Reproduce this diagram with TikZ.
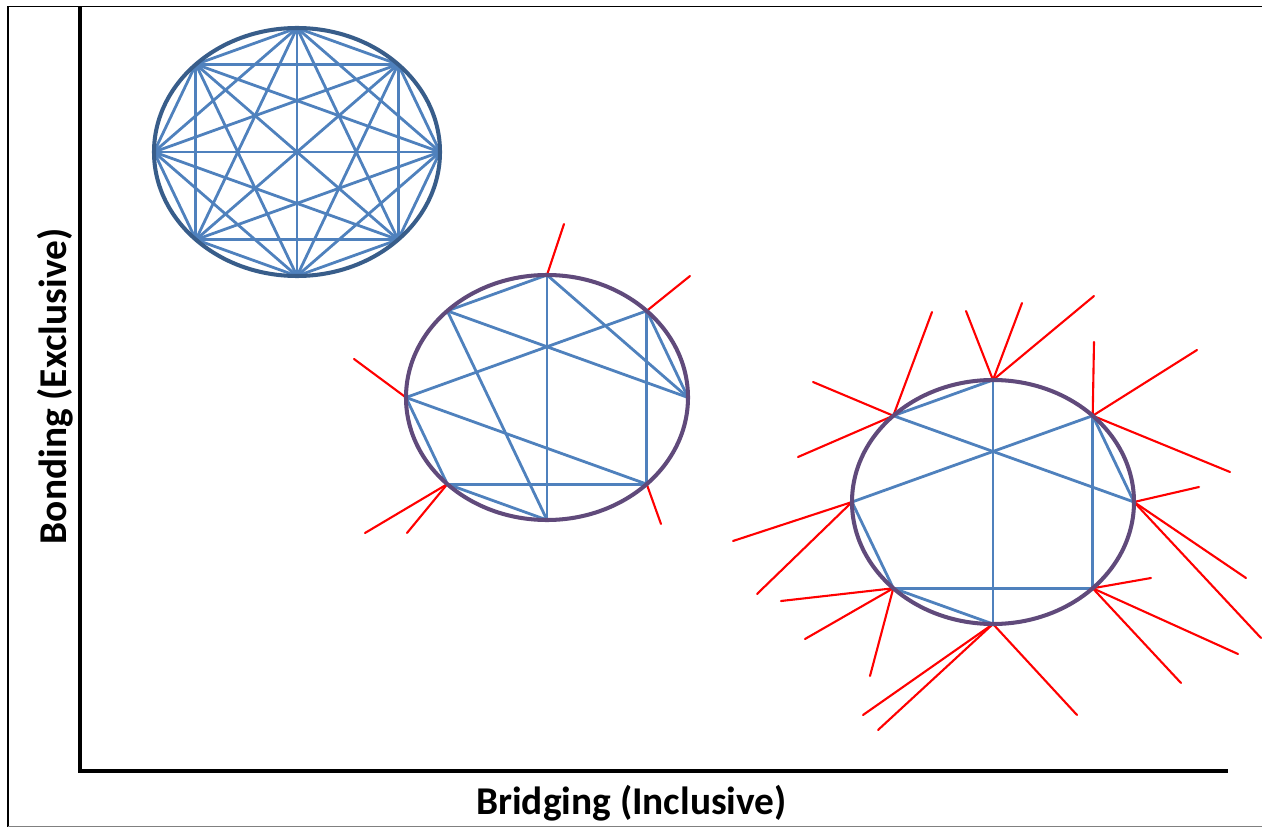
\documentclass[tikz,border=0pt]{standalone}
\usepackage{fontspec}
\setmainfont{Carlito}
\definecolor{cblue}{HTML}{4F81BD}
\definecolor{ringone}{HTML}{385D8A}
\definecolor{ringtwo}{HTML}{604A7B}
\begin{document}
\begin{tikzpicture}[x=0.02cm,y=-0.02cm,
  edge/.style={cblue,line width=1.6pt,line cap=round},
  tie/.style={red,line width=1.2pt,line cap=round},
  ringA/.style={ringone,line width=2.3pt},
  ringB/.style={ringtwo,line width=2.3pt},
  axisline/.style={black,line width=2.3pt},
  framing/.style={black,line width=1.1pt},
  lab/.style={font=\bfseries\fontsize{22.4}{25}\selectfont, inner sep=0pt}]
\useasboundingbox (0,0) rectangle (1262,828);
% frame
\coordinate (ftr) at (1263,6.5);
\coordinate (ftl) at (8,6.5);
\coordinate (fbl) at (8,826.5);
\coordinate (fbr) at (1263,826.5);
\draw[framing] (ftr) -- (ftl) -- (fbl);
\draw[gray,line width=0.8pt] (fbl) -- (fbr);
% axes
\coordinate (ytop) at (80,6.5);
\coordinate (origin) at (80,771);
\coordinate (xend) at (1228,771);
\draw[axisline] (ytop) -- (origin) -- (xend);
% labels
\node[lab, anchor=base] (xlabel) at (631.5,814) {Bridging (Inclusive)};
\node[lab, anchor=base, rotate=90] (ylabel) at (66,386.5) {Bonding (Exclusive)};
% vertices
\foreach \i in {0,...,7} {
  \coordinate (a\i) at ({297+143*cos(45*\i)},{152-124*sin(45*\i)});
  \coordinate (b\i) at ({547+141*cos(45*\i)},{397.5-122.5*sin(45*\i)});
  \coordinate (c\i) at ({993+141*cos(45*\i)},{502-122*sin(45*\i)});
}
% circle 1: complete graph
\foreach \i in {0,...,6} {
  \pgfmathtruncatemacro\nxt{\i+1}
  \foreach \j in {\nxt,...,7} \draw[edge] (a\i) -- (a\j);
}
\draw[ringA] (297,152) ellipse [x radius=143, y radius=124];
% circle 2
\foreach \p/\q in {2/3,2/6,2/0,3/0,3/6,1/4,1/7,1/0,4/5,4/7,5/7,5/6}
  \draw[edge] (b\p) -- (b\q);
\foreach \v/\x/\y [count=\k] in {2/564/224,1/690/276,4/354/359,5/365/533,5/407/533,7/661/524} {
  \coordinate (bt\k) at (\x,\y);
  \draw[tie] (b\v) -- (bt\k);
}
\draw[ringB] (547,397.5) ellipse [x radius=141, y radius=122.5];
% circle 3
\foreach \p/\q in {2/3,2/6,3/0,1/4,1/7,1/0,4/5,5/7,5/6}
  \draw[edge] (c\p) -- (c\q);
\foreach \v/\x/\y [count=\k] in {2/966/311,2/1022/303,2/1094/296,
  3/932/312,3/813/382,3/798/457,
  1/1094/342,1/1197/350,1/1230/472,
  4/733/541,4/757/594,
  0/1199/487,0/1246/578,0/1261/638,
  5/781/601,5/805/639,5/870/676,
  7/1151/578,7/1238/654,7/1181/683,
  6/863/715,6/878/730,6/1077/715} {
  \coordinate (ct\k) at (\x,\y);
  \draw[tie] (c\v) -- (ct\k);
}
\draw[ringB] (993,502) ellipse [x radius=141, y radius=122];
\end{tikzpicture}
\end{document}
